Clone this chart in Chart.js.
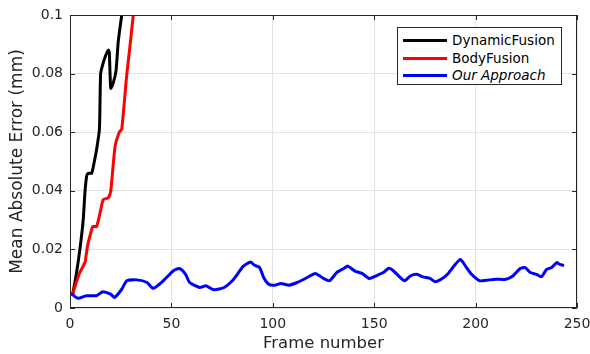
<!DOCTYPE html>
<html>
<head>
<meta charset="utf-8">
<script src="https://cdn.jsdelivr.net/npm/chart.js@4.4.0/dist/chart.umd.min.js"></script>
<style>
  html, body { margin: 0; padding: 0; background: #fff; }
  #wrap { position: relative; width: 590px; height: 354px; }
  #legend { position: absolute; left: 397px; top: 27px; width: 163px; height: 56px;
            border: 1px solid #262626; background: #fff; font-family: "DejaVu Sans", sans-serif;
            font-size: 13.5px; color: #000; }
  .row { position: absolute; left: 0; height: 18px; width: 100%; }
  .sw { position: absolute; left: 5px; top: 7px; width: 44px; height: 3px; }
  .lb { position: absolute; left: 54px; top: 0; line-height: 17px; white-space: nowrap; }
</style>
</head>
<body>
<div id="wrap">
  <canvas id="c" width="590" height="354"></canvas>
  <div id="legend"></div>
</div>
<script>
// ---- data ----
const seriesNames = ["DynamicFusion", "BodyFusion", "Our Approach"];
const seriesColors = ["#000000", "#ff0000", "#0000ff"];

const dynFrames = [1.3, 3, 5, 6.5, 7.4, 8.2, 9, 10.7, 12, 13.1, 14.5, 15.1, 16.1, 17.5, 18.9, 19.4, 20.1, 21.4, 22.7, 23.8, 25.5, 26];
const dynError  = [0.0047, 0.011, 0.0207, 0.030, 0.0397, 0.045, 0.046, 0.046, 0.050, 0.054, 0.061, 0.080, 0.083, 0.086, 0.088, 0.087, 0.075, 0.077, 0.081, 0.091, 0.100, 0.103];

const bodyFrames = [1.3, 3, 4.9, 7.4, 8.5, 10, 11.2, 13.1, 15, 16.4, 18.9, 20.1, 22.2, 24.3, 25.5, 27.9, 30, 31.2, 32];
const bodyError  = [0.0047, 0.0085, 0.0122, 0.0156, 0.0207, 0.025, 0.0278, 0.0278, 0.033, 0.037, 0.0376, 0.040, 0.055, 0.060, 0.061, 0.079, 0.092, 0.100, 0.104];

const oursFrames = [1, 4, 8, 13, 16, 20, 22, 25.5, 28, 33,
  38, 41, 46, 51, 54, 57, 59, 64, 67, 71,
  76, 80, 82.5, 85.5, 89, 91, 93.5, 95.5, 98, 101,
  104, 108, 112, 117, 121, 125, 128, 131.5, 135, 137,
  140.5, 144, 147.5, 151, 154.5, 157, 159, 162, 165, 168,
  171, 174, 177.5, 180, 183, 186.5, 190, 192.5, 195.5, 198,
  202, 205.5, 210, 215, 218.5, 222, 224.5, 227, 230, 232.5,
  235, 237.5, 240, 241.5, 243];
const oursError = [0.0047, 0.0033, 0.0042, 0.0042, 0.0055, 0.0047, 0.0036, 0.0064, 0.0093, 0.0096,
  0.0087, 0.0067, 0.0093, 0.0127, 0.0135, 0.0115, 0.0087, 0.0070, 0.0076, 0.0062,
  0.0070, 0.0093, 0.0115, 0.0143, 0.0157, 0.0146, 0.0138, 0.0104, 0.0081, 0.0078,
  0.0084, 0.0078, 0.0087, 0.0104, 0.0118, 0.0101, 0.0093, 0.0121, 0.0135, 0.0143,
  0.0126, 0.0118, 0.0101, 0.0110, 0.0121, 0.0135, 0.0130, 0.0110, 0.0093, 0.0110,
  0.0115, 0.0106, 0.0101, 0.0090, 0.0098, 0.0118, 0.0149, 0.0166, 0.0138, 0.0115,
  0.0093, 0.0095, 0.0098, 0.0098, 0.0110, 0.0135, 0.0138, 0.0121, 0.0115, 0.0107,
  0.0132, 0.0138, 0.0155, 0.0149, 0.0146];

const xTicks = [0, 50, 100, 150, 200, 250];
const yTicks = [0, 0.02, 0.04, 0.06, 0.08, 0.1];
const yTickLabels = ["0", "0.02", "0.04", "0.06", "0.08", "0.1"];

// ---- build ----
function pts(xs, ys) { return xs.map((x, i) => ({ x: x, y: ys[i] })); }
const allFrames = [dynFrames, bodyFrames, oursFrames];
const allErrors = [dynError, bodyError, oursError];

const datasets = seriesNames.map((n, i) => ({
  label: n,
  data: pts(allFrames[i], allErrors[i]),
  borderColor: seriesColors[i],
  backgroundColor: seriesColors[i],
  borderWidth: 3,
  borderJoinStyle: "round",
  borderCapStyle: "round",
  pointRadius: 0,
  tension: 0.2,
  fill: false,
  order: 2 - i
}));

const AX = "#262626";
const FONT = "'DejaVu Sans', sans-serif";

const boxTicks = {
  id: "boxTicks",
  afterDraw(chart) {
    const { ctx, chartArea: a, scales } = chart;
    ctx.save();
    ctx.strokeStyle = AX;
    ctx.lineWidth = 1;
    ctx.beginPath();
    ctx.rect(Math.round(a.left) + 0.5, Math.round(a.top) + 0.5,
             Math.round(a.right - a.left) - 1, Math.round(a.bottom - a.top) - 1);
    ctx.stroke();
    ctx.beginPath();
    xTicks.forEach(v => {
      const x = Math.round(scales.x.getPixelForValue(v)) + 0.5;
      ctx.moveTo(x, a.bottom); ctx.lineTo(x, a.bottom - 5);
      ctx.moveTo(x, a.top); ctx.lineTo(x, a.top + 5);
    });
    yTicks.forEach(v => {
      const y = Math.round(scales.y.getPixelForValue(v)) + 0.5;
      ctx.moveTo(a.left, y); ctx.lineTo(a.left + 5, y);
      ctx.moveTo(a.right, y); ctx.lineTo(a.right - 5, y);
    });
    ctx.stroke();
    ctx.restore();
  }
};

new Chart(document.getElementById("c"), {
  type: "line",
  data: { datasets: datasets },
  plugins: [boxTicks],
  options: {
    responsive: false,
    animation: false,
    layout: { padding: { top: 15, right: 13, left: 0, bottom: 0 } },
    plugins: { legend: { display: false }, tooltip: { enabled: false } },
    scales: {
      x: {
        type: "linear", min: 0, max: 250,
        afterBuildTicks(s) { s.ticks = xTicks.map(v => ({ value: v })); },
        afterFit(s) { s.height = 46; s.paddingLeft = 0; s.paddingRight = 0; },
        grid: { color: "#e3e3e3", drawTicks: false },
        border: { display: false },
        ticks: { color: AX, font: { family: FONT, size: 14 }, padding: 8, maxRotation: 0 },
        title: { display: true, text: "Frame number", color: AX,
                 font: { family: FONT, size: 16.5 }, padding: { top: 0, bottom: 0 } }
      },
      y: {
        type: "linear", min: 0, max: 0.1,
        afterBuildTicks(s) { s.ticks = yTicks.map(v => ({ value: v })); },
        afterFit(s) { s.width = 70; s.paddingTop = 0; s.paddingBottom = 0; },
        grid: { color: "#e3e3e3", drawTicks: false },
        border: { display: false },
        ticks: { color: AX, font: { family: FONT, size: 14 }, padding: 7,
                 callback(v) { const k = yTicks.indexOf(v); return k >= 0 ? yTickLabels[k] : ""; } },
        title: { display: true, text: "Mean Absolute Error (mm)", color: AX,
                 font: { family: FONT, size: 17 }, padding: { top: 7, bottom: 0 } }
      }
    }
  }
});

// HTML legend
const leg = document.getElementById("legend");
seriesNames.forEach((n, i) => {
  const r = document.createElement("div");
  r.className = "row";
  r.style.top = (4 + i * 17.5) + "px";
  const sw = document.createElement("div");
  sw.className = "sw"; sw.style.background = seriesColors[i];
  const lb = document.createElement("div");
  lb.className = "lb"; lb.textContent = n;
  if (i === 2) lb.style.fontStyle = "italic";
  r.appendChild(sw); r.appendChild(lb);
  leg.appendChild(r);
});
</script>
</body>
</html>
